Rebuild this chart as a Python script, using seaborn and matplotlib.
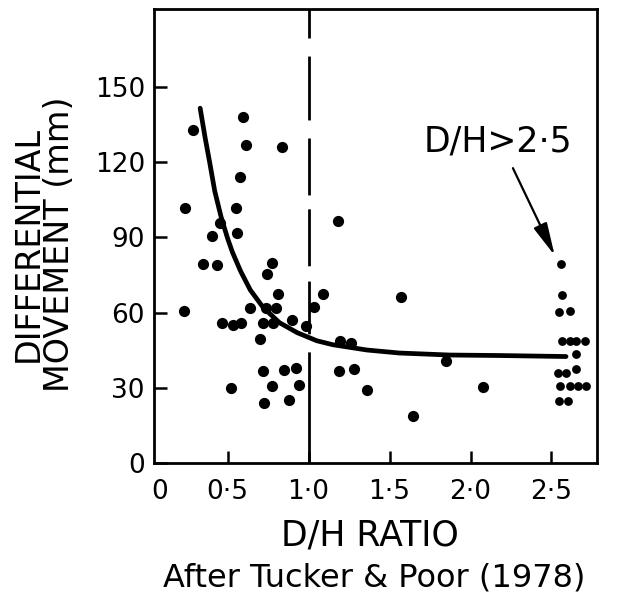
import matplotlib
matplotlib.use("Agg")
import matplotlib.pyplot as plt
import seaborn as sns

# measured points (D/H ratio, differential movement in mm)
dh = [0.284, 0.593, 0.611, 0.837, 0.576, 0.551, 0.235, 0.452, 0.401, 0.559,
      0.350, 0.432, 0.772, 0.741, 0.813, 0.232, 0.638, 0.737, 0.798, 1.033,
      0.463, 0.531, 0.582, 0.720, 0.782, 0.899, 0.981, 0.699, 0.720, 0.850,
      0.920, 0.518, 0.775, 0.940, 0.726, 0.876, 1.183, 1.086, 1.568, 1.193,
      1.259, 1.846, 1.187, 1.282, 1.362, 2.078, 1.642]
movement = [132.8, 138.0, 127.0, 126.0, 113.9, 101.9, 101.9, 95.9, 90.5, 91.9,
            79.2, 78.8, 79.9, 75.5, 67.5, 60.5, 61.7, 61.9, 61.9, 62.4,
            55.7, 55.2, 55.7, 55.7, 55.7, 57.1, 54.8, 49.5, 36.8, 37.2,
            37.9, 30.1, 30.8, 31.1, 23.9, 25.2, 96.4, 67.5, 66.4, 48.5,
            47.9, 40.8, 36.8, 37.5, 29.1, 30.5, 18.8]

# D/H > 2.5 group, stacked at the right
dh_big = [2.557, 2.566, 2.547, 2.613, 2.566, 2.613, 2.654, 2.705, 2.654,
          2.541, 2.588, 2.654, 2.551, 2.613, 2.664, 2.712, 2.547, 2.603]
movement_big = [79.2, 67.2, 60.3, 60.5, 48.7, 48.7, 48.7, 48.7, 43.5,
                36.1, 36.1, 37.5, 30.8, 30.8, 30.8, 30.8, 24.6, 24.6]

# trend curve
curve_x = [0.33, 0.36, 0.39, 0.42, 0.46, 0.50, 0.53, 0.58, 0.64, 0.72,
           0.82, 0.93, 1.05, 1.15, 1.36, 1.56, 1.87, 2.18, 2.59]
curve_y = [141.5, 130.0, 119.5, 108.5, 98.0, 89.5, 84.0, 76.5, 69.0, 62.0,
           56.0, 52.0, 48.8, 47.2, 45.1, 43.9, 43.1, 42.9, 42.5]

x_ticks = [0.5, 1.0, 1.5, 2.0, 2.5]
x_labels = ["0·5", "1·0", "1·5", "2·0", "2·5"]
y_ticks = [0, 30, 60, 90, 120, 150]

sns.set_style("ticks")
plt.rcParams['font.family'] = ['DejaVu Sans']
plt.rcParams['text.color'] = 'black'
plt.rcParams['xtick.color'] = 'black'
plt.rcParams['ytick.color'] = 'black'
plt.rcParams['axes.labelcolor'] = 'black'

fig = plt.figure(figsize=(6.21, 6.07), dpi=100)
ax = fig.add_axes([0.248, 0.237, 0.713, 0.748])

sns.lineplot(x=curve_x, y=curve_y, color="black", linewidth=3.4, ax=ax)
sns.scatterplot(x=dh, y=movement, color="black", s=65, linewidth=0, ax=ax, zorder=3)
sns.scatterplot(x=dh_big, y=movement_big, color="black", s=40, linewidth=0, ax=ax, zorder=3)

# D/H = 1 divider, long irregular dashes like the original
ax.axvline(1.0, color="black", lw=2,
           dashes=[40, 6.5, 19, 5.5, 20.5, 5, 20.5, 6.5, 23, 6.5, 14, 6])

ax.set_xlim(0.045, 2.78)
ax.set_ylim(0, 181)
ax.set_xticks(x_ticks)
ax.set_xticklabels(x_labels)
ax.set_yticks(y_ticks)

ax.tick_params(direction="in", length=9, width=1.8, labelsize=19)
ax.tick_params(axis="y", pad=6.5)
ax.tick_params(axis="x", pad=11.5)
for sp in ax.spines.values():
    sp.set_linewidth(2)
    sp.set_color("black")

# origin label for the x axis sits just right of the corner
ax.text(0.08, -0.035, "0", transform=ax.get_xaxis_transform(),
        ha="center", va="top", fontsize=19)

ax.set_xlabel("D/H RATIO", fontsize=25, va="top")
ax.xaxis.set_label_coords(0.488, -0.123)
ax.set_ylabel("DIFFERENTIAL\nMOVEMENT (mm)", fontsize=24, va="center",
              linespacing=0.95)
ax.yaxis.set_label_coords(-0.249, 0.482)

ax.text(2.168, 128.2, "D/H>2·5", fontsize=25, ha="center", va="center")
ax.annotate("", xy=(2.52, 82.8), xytext=(2.262, 117.6),
            arrowprops=dict(arrowstyle="-|>,head_length=1.0,head_width=0.22",
                            color="black", lw=1.6, shrinkA=0, shrinkB=0,
                            mutation_scale=20))

fig.text(374 / 621, 0.0478, "After Tucker & Poor (1978)", fontsize=23,
         ha="center", va="center")

fig.savefig("out.png", dpi=100)
